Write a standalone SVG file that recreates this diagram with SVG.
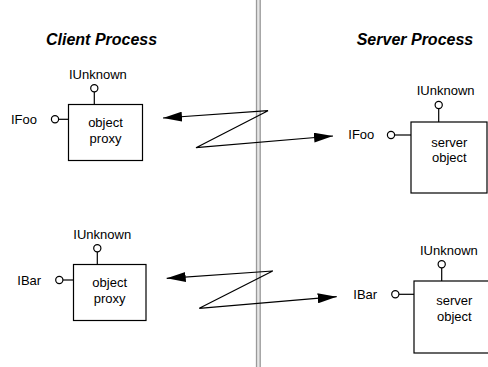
<svg xmlns="http://www.w3.org/2000/svg" width="488" height="367" viewBox="0 0 488 367">
<style>
text{font-family:"Liberation Sans",Arial,sans-serif;font-size:13px;fill:#000}
.title{font-size:16px;font-weight:bold;font-style:italic}
.mid{text-anchor:middle}
.box{fill:#fff;stroke:#000;stroke-width:1.2}
.ln{stroke:#000;stroke-width:1.2;fill:none}
.lol{fill:#fff;stroke:#000;stroke-width:1.2}
.zz{stroke:#000;stroke-width:1.2;fill:none}
</style>
<defs>
<marker id="ah" viewBox="0 0 19 10" refX="19" refY="5" markerWidth="19" markerHeight="10" markerUnits="userSpaceOnUse" orient="auto-start-reverse">
<path d="M0,0 L19,5 L0,10 Z" fill="#000"/>
</marker>
</defs>
<g id="divider">
<rect x="256.5" y="0" width="4" height="367" fill="#e6e6e6"/>
<line x1="256.5" y1="0" x2="256.5" y2="367" stroke="#9a9a9a" stroke-width="1.3"/>
<line x1="260.2" y1="0" x2="260.2" y2="367" stroke="#9a9a9a" stroke-width="1.3"/>
</g>
<g id="titles">
<text class="title" x="46" y="45">Client Process</text>
<text class="title" x="356.7" y="45">Server Process</text>
</g>
<g id="connectors">
<polyline class="zz" points="163,118 268,110.7 196,147.7 333,136" marker-start="url(#ah)" marker-end="url(#ah)"/>
<polyline class="zz" points="166.7,278.3 272.7,271 199.3,308.3 336.7,296.7" marker-start="url(#ah)" marker-end="url(#ah)"/>
</g>
<g id="client-proxy-foo">
<line class="ln" x1="94.3" y1="92" x2="94.3" y2="104.5"/>
<circle class="lol" cx="94.3" cy="88.3" r="3.6"/>
<line class="ln" x1="58.8" y1="119.3" x2="68.5" y2="119.3"/>
<circle class="lol" cx="55" cy="119.3" r="3.6"/>
<rect class="box" x="68.5" y="104.5" width="74" height="56"/>
<text x="69" y="79">IUnknown</text>
<text x="11" y="124">IFoo</text>
<text class="mid" x="105.5" y="126.7">object</text>
<text class="mid" x="105.5" y="143">proxy</text>
</g>
<g id="server-object-foo">
<line class="ln" x1="438.7" y1="108.7" x2="438.7" y2="122"/>
<circle class="lol" cx="438.7" cy="105" r="3.6"/>
<line class="ln" x1="394.7" y1="135" x2="411" y2="135"/>
<circle class="lol" cx="391" cy="135" r="3.6"/>
<rect class="box" x="411" y="122" width="76" height="71"/>
<text x="416.7" y="95">IUnknown</text>
<text x="348.3" y="139">IFoo</text>
<text class="mid" x="449.3" y="146.7">server</text>
<text class="mid" x="449.3" y="161.7">object</text>
</g>
<g id="client-proxy-bar">
<line class="ln" x1="97.3" y1="252" x2="97.3" y2="264.5"/>
<circle class="lol" cx="97.3" cy="248.3" r="3.6"/>
<line class="ln" x1="63" y1="280" x2="73.5" y2="280"/>
<circle class="lol" cx="59.3" cy="280" r="3.6"/>
<rect class="box" x="73.5" y="264.5" width="72.5" height="56"/>
<text x="73.3" y="239">IUnknown</text>
<text x="17.3" y="285">IBar</text>
<text class="mid" x="109.7" y="286.7">object</text>
<text class="mid" x="109.7" y="302.7">proxy</text>
</g>
<g id="server-object-bar">
<line class="ln" x1="441.7" y1="268" x2="441.7" y2="281"/>
<circle class="lol" cx="441.7" cy="264.3" r="3.6"/>
<line class="ln" x1="399" y1="294.3" x2="414" y2="294.3"/>
<circle class="lol" cx="395.3" cy="294.3" r="3.6"/>
<rect class="box" x="414" y="281" width="80" height="72"/>
<text x="420" y="255">IUnknown</text>
<text x="353.3" y="299">IBar</text>
<text class="mid" x="454.3" y="305">server</text>
<text class="mid" x="454.3" y="320.7">object</text>
</g>
</svg>
